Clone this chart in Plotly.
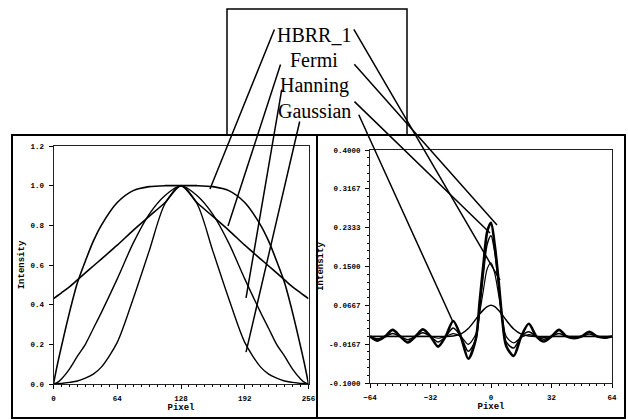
import plotly.graph_objects as go

# ---------------- data: left panel (filter profiles) ----------------
pixel_left = [0, 4, 8, 16, 24, 32, 40, 48, 64, 80, 96, 112, 128,
              144, 160, 176, 192, 208, 216, 224, 232, 240, 248, 252, 256]
hbrr_left = [0.0, 0.10, 0.19, 0.36, 0.51, 0.62, 0.72, 0.80, 0.915, 0.975, 0.995, 1.0, 1.0,
             1.0, 0.995, 0.975, 0.915, 0.80, 0.72, 0.62, 0.51, 0.36, 0.19, 0.10, 0.0]
fermi_left = [0.43, 0.445, 0.46, 0.49, 0.525, 0.56, 0.595, 0.63, 0.70, 0.775, 0.845, 0.915, 1.0,
              0.915, 0.845, 0.775, 0.70, 0.63, 0.595, 0.56, 0.525, 0.49, 0.46, 0.445, 0.43]
hanning_left = [0.0, 0.008, 0.025, 0.075, 0.14, 0.20, 0.28, 0.36, 0.53, 0.71, 0.855, 0.95, 1.0,
                0.95, 0.855, 0.71, 0.53, 0.36, 0.28, 0.20, 0.14, 0.075, 0.025, 0.008, 0.0]
gaussian_left = [0.0, 0.002, 0.003, 0.008, 0.015, 0.03, 0.05, 0.085, 0.21, 0.43, 0.67, 0.91, 1.0,
                 0.91, 0.67, 0.43, 0.21, 0.085, 0.05, 0.03, 0.015, 0.008, 0.003, 0.002, 0.0]

# ---------------- data: right panel (point spread functions) ----------------
pixel_right = [-64, -60, -56, -52, -48, -44, -40, -36, -32, -28, -24, -20, -16, -12,
               -8, -6, -4, -2, 0, 2, 4, 6, 8,
               12, 16, 20, 24, 28, 32, 36, 40, 44, 48, 52, 56, 60, 64]
psf_1 = [0.0, -0.009, 0.0, 0.014, 0.0, -0.013, 0.0, 0.015, 0.0, -0.022, 0.0, 0.033, 0.0, -0.048,
         -0.005, 0.075, 0.155, 0.225, 0.244, 0.195, 0.12, 0.035, -0.02,
         -0.042, 0.0, 0.027, 0.0, -0.011, 0.0, 0.014, 0.0, -0.004, 0.0, 0.010, 0.0, -0.003, 0.0]
psf_2 = [0.0, -0.005, 0.0, 0.006, 0.0, -0.007, 0.0, 0.008, 0.0, -0.012, 0.0, 0.018, 0.0, -0.032,
         -0.006, 0.06, 0.135, 0.198, 0.216, 0.18, 0.11, 0.035, -0.012,
         -0.025, 0.0, 0.010, 0.0, -0.006, 0.0, 0.006, 0.0, -0.003, 0.0, 0.005, 0.0, -0.002, 0.0]
psf_3 = [0.0, 0.0, 0.0, 0.0, 0.0, 0.0, 0.0, 0.0, 0.0, -0.004, 0.0, 0.006, 0.0, -0.017,
         0.005, 0.05, 0.10, 0.145, 0.158, 0.135, 0.09, 0.04, 0.0,
         -0.014, -0.002, 0.004, 0.0, -0.002, 0.0, 0.0, 0.0, 0.0, 0.0, 0.0, 0.0, 0.0, 0.0]
psf_4 = [0.0, 0.0, 0.0, 0.0, 0.0, 0.0, 0.0, 0.0, 0.0, 0.0, 0.0, 0.001, 0.005, 0.017,
         0.037, 0.048, 0.057, 0.064, 0.067, 0.064, 0.056, 0.046, 0.035,
         0.016, 0.005, 0.001, 0.0, 0.0, 0.0, 0.0, 0.0, 0.0, 0.0, 0.0, 0.0, 0.0, 0.0]

left_xticks = [0, 64, 128, 192, 256]
left_yticks = [0.0, 0.2, 0.4, 0.6, 0.8, 1.0, 1.2]
right_xticks = [-64, -32, 0, 32, 64]
right_yticks = [-0.1, -0.0167, 0.0667, 0.15, 0.2333, 0.3167, 0.4]
right_yticktext = ["-0.1000", "-0.0167", "0.0667", "0.1500", "0.2333", "0.3167", "0.4000"]

labels = ["HBRR_1", "Fermi", "Hanning", "Gaussian"]
# pointer lines: (tail_x, tail_y, head_x, head_y) in each panel's data units
pointers_left = [(222.4, 1.795, 157.1, 0.983), (228.4, 1.618, 175.2, 0.797),
                 (229.4, 1.492, 193.3, 0.434), (247.5, 1.331, 193.3, 0.161)]
pointers_right = [(-73.0, 0.662, 4.76, 0.121), (-73.0, 0.587, 3.17, 0.239),
                  (-73.0, 0.507, -0.53, 0.222), (-70.3, 0.479, -20.1, 0.031)]

W, H = 628, 420
fig = go.Figure()

for ys, w in [(hbrr_left, 1.6), (fermi_left, 1.6), (hanning_left, 1.4), (gaussian_left, 1.4)]:
    fig.add_trace(go.Scatter(x=pixel_left, y=ys, mode="lines", xaxis="x", yaxis="y",
                             line=dict(color="black", width=w, shape="spline", smoothing=0.8),
                             showlegend=False, hoverinfo="skip"))
for ys, w in [(psf_1, 2.6), (psf_2, 1.5), (psf_3, 1.2), (psf_4, 1.5)]:
    fig.add_trace(go.Scatter(x=pixel_right, y=ys, mode="lines", xaxis="x2", yaxis="y2",
                             line=dict(color="black", width=w, shape="spline", smoothing=0.8),
                             showlegend=False, hoverinfo="skip"))

tickfont = dict(family="Liberation Mono", size=7.5, color="black", weight="bold")
titlefont = dict(family="Liberation Mono", size=9, color="black", weight="bold")
ax_common = dict(showline=True, mirror=True, linecolor="#222222", linewidth=1, showgrid=False,
                 zeroline=False, ticks="outside", ticklen=4, tickcolor="black", tickfont=tickfont,
                 automargin=False, ticklabelstandoff=3)

fig.update_layout(
    width=W, height=H, autosize=False,
    margin=dict(l=0, r=0, t=0, b=0),
    paper_bgcolor="white", plot_bgcolor="white",
    xaxis=dict(domain=[53.5 / W, 308.5 / W], anchor="y", range=[0, 256], tickvals=left_xticks,
               title=dict(text="Pixel", font=titlefont, standoff=1),
               minor=dict(ticks="outside", ticklen=2, dtick=8, tick0=0, tickcolor="black"), **ax_common),
    yaxis=dict(domain=[1 - 384 / H, 1 - 146 / H], anchor="x", range=[0, 1.2], tickvals=left_yticks,
               tickformat=".1f", title=dict(text="Intensity", font=titlefont, standoff=4), **ax_common),
    xaxis2=dict(domain=[370 / W, 612 / W], anchor="y2", range=[-64, 64], tickvals=right_xticks,
                title=dict(text="Pixel", font=titlefont, standoff=1),
                minor=dict(ticks="outside", ticklen=2, dtick=4, tick0=0, tickcolor="black"), **ax_common),
    yaxis2=dict(domain=[1 - 383 / H, 1 - 150 / H], anchor="x2", range=[-0.1, 0.4], tickvals=right_yticks,
                ticktext=right_yticktext, title=dict(text="Intensity", font=titlefont, standoff=3),
                minor=dict(ticks="outside", ticklen=2, dtick=0.5 / 30, tick0=-0.1, tickcolor="black"),
                **ax_common),
)

# panel frames and label box
fig.add_shape(type="rect", xref="paper", yref="paper", x0=12 / W, x1=317 / W, y0=1 - 418 / H, y1=1 - 135 / H,
              line=dict(color="black", width=2))
fig.add_shape(type="rect", xref="paper", yref="paper", x0=317 / W, x1=625 / W, y0=1 - 418 / H, y1=1 - 135 / H,
              line=dict(color="black", width=2))
fig.add_shape(type="rect", xref="paper", yref="paper", x0=227 / W, x1=407 / W, y0=1 - 135 / H, y1=1 - 9 / H,
              line=dict(color="black", width=1.5))

label_y = [35, 60, 86, 111]
for t, yy in zip(labels, label_y):
    fig.add_annotation(text=t, xref="paper", yref="paper", x=314 / W, y=1 - yy / H, showarrow=False,
                       xanchor="center", yanchor="middle",
                       font=dict(family="Liberation Serif", size=20, color="black"))

for (tx, ty, hx, hy) in pointers_left:
    fig.add_annotation(text="", x=hx, y=hy, xref="x", yref="y", ax=tx, ay=ty, axref="x", ayref="y",
                       showarrow=True, arrowhead=0, arrowwidth=1.5, arrowcolor="black", standoff=0)
for (tx, ty, hx, hy) in pointers_right:
    fig.add_annotation(text="", x=hx, y=hy, xref="x2", yref="y2", ax=tx, ay=ty, axref="x2", ayref="y2",
                       showarrow=True, arrowhead=0, arrowwidth=1.5, arrowcolor="black", standoff=0)

fig.write_html("out.html", config={"displayModeBar": False},
               post_script="document.body.style.margin='0px';")
